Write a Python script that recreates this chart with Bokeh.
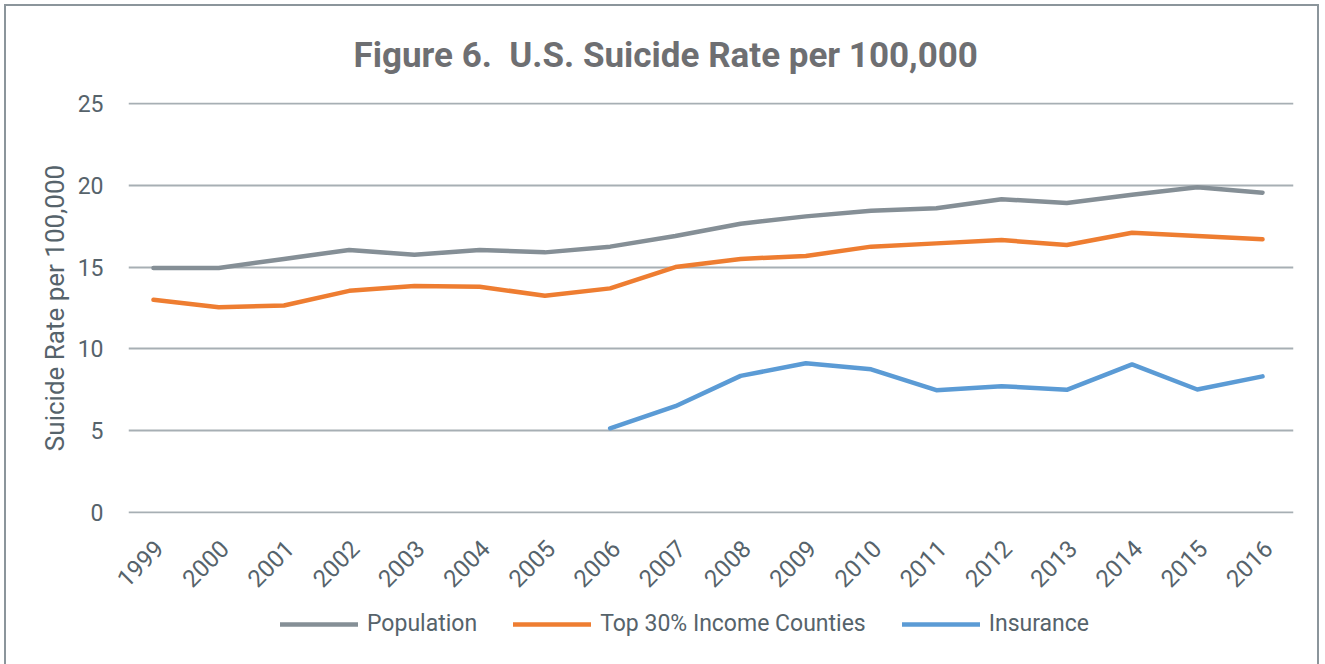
import math
from bokeh.plotting import figure
from bokeh.layouts import column
from bokeh.models import Range1d, FixedTicker, Legend, LegendItem, LinearAxis
from bokeh.embed import file_html
from bokeh.resources import INLINE

years = [1999, 2000, 2001, 2002, 2003, 2004, 2005, 2006, 2007, 2008,
         2009, 2010, 2011, 2012, 2013, 2014, 2015, 2016]
population = [14.95, 14.95, 15.5, 16.05, 15.75, 16.05, 15.9, 16.25, 16.9, 17.65,
              18.1, 18.45, 18.6, 19.15, 18.92, 19.42, 19.88, 19.55]
top30_income = [13.0, 12.55, 12.65, 13.55, 13.85, 13.8, 13.25, 13.7, 15.0, 15.5,
                15.68, 16.25, 16.45, 16.65, 16.35, 17.1, 16.9, 16.7]
insurance_years = [2006, 2007, 2008, 2009, 2010, 2011, 2012, 2013, 2014, 2015, 2016]
insurance = [5.15, 6.5, 8.35, 9.12, 8.75, 7.48, 7.72, 7.5, 9.05, 7.52, 8.32]
y_ticks = [0, 5, 10, 15, 20, 25]
series_names = ["Population", "Top 30% Income Counties", "Insurance"]
series_colors = ["#858f96", "#ee7d31", "#5b9bd5"]

FONT = "Roboto"
LABEL_COLOR = "#56636b"
FRAME_COLOR = "#8b959b"
BORDER = "2px solid " + FRAME_COLOR

X_START, X_END = 1998.617, 2016.475
LABEL_SHIFT = 0.09

p = figure(width=1315, height=601, output_backend="svg", toolbar_location=None,
           x_range=Range1d(X_START, X_END), y_range=Range1d(-0.06, 25.06),
           x_axis_location=None,
           min_border_left=122, min_border_right=28, min_border_top=95,
           min_border_bottom=94,
           title="Figure 6.\u00a0 U.S. Suicide Rate per 100,000")
p.margin = (4, 0, 0, 4)
p.styles = {"border-top": BORDER, "border-left": BORDER, "border-right": BORDER}

p.title.align = "left"
p.title.offset = 225
p.title.standoff = 53
p.title.text_font = FONT
p.title.text_font_size = "35px"
p.title.text_font_style = "bold"
p.title.text_color = "#6e6f72"

p.outline_line_color = None
p.background_fill_color = "white"
p.border_fill_color = "white"

p.extra_x_ranges = {"labels": Range1d(X_START - LABEL_SHIFT, X_END - LABEL_SHIFT)}
xaxis = LinearAxis(x_range_name="labels", ticker=FixedTicker(ticks=years))
p.add_layout(xaxis, "below")

p.xgrid.grid_line_color = None
p.ygrid.grid_line_color = "#a7afb4"
p.ygrid.grid_line_width = 2

p.yaxis.ticker = FixedTicker(ticks=y_ticks)
for ax in (xaxis, p.yaxis[0]):
    ax.axis_line_color = None
    ax.major_tick_line_color = None
    ax.minor_tick_line_color = None
    ax.major_label_text_font = FONT
    ax.major_label_text_color = LABEL_COLOR
    ax.major_label_text_font_size = "24px"
p.yaxis.major_label_text_font_size = "23px"

p.yaxis.major_label_standoff = 19
p.yaxis.axis_label = "Suicide Rate per 100,000"
p.yaxis.axis_label_text_font = FONT
p.yaxis.axis_label_text_font_style = "normal"
p.yaxis.axis_label_text_font_size = "26px"
p.yaxis.axis_label_text_color = LABEL_COLOR
p.yaxis.axis_label_standoff = 5

xaxis.major_label_orientation = math.pi / 4
xaxis.major_label_standoff = 25

series = ((years, population), (years, top30_income), (insurance_years, insurance))
for (xs, ys), c in zip(series, series_colors):
    p.line(xs, ys, line_width=4.5, color=c, line_cap="round", line_join="round")

# legend strip below the chart (its lines lie outside its visible range)
lf = figure(width=1315, height=59, output_backend="svg", toolbar_location=None,
            x_range=Range1d(0, 1), y_range=Range1d(0, 1),
            x_axis_location=None, y_axis_location=None,
            min_border_left=0, min_border_right=0, min_border_top=0,
            min_border_bottom=0)
lf.margin = (0, 0, 0, 4)
lf.styles = {"border-left": BORDER, "border-right": BORDER}
lf.outline_line_color = None
lf.grid.visible = False
lf.border_fill_color = "white"

items = []
for name, (xs, ys), c in zip(series_names, series, series_colors):
    r = lf.line(xs, ys, line_width=4.5, color=c, line_cap="round")
    items.append(LegendItem(label=name, renderers=[r]))

legend = Legend(items=items, orientation="horizontal", location=(152, 27))
legend.glyph_width = 78
legend.glyph_height = 22
legend.label_standoff = 9
legend.spacing = 36
legend.padding = 0
legend.margin = 0
legend.border_line_color = None
legend.background_fill_alpha = 0
legend.label_text_font = FONT
legend.label_text_font_size = "23px"
legend.label_text_color = LABEL_COLOR
lf.add_layout(legend, "center")

layout = column(p, lf, spacing=0)
open("out.html", "w").write(file_html(layout, INLINE))
